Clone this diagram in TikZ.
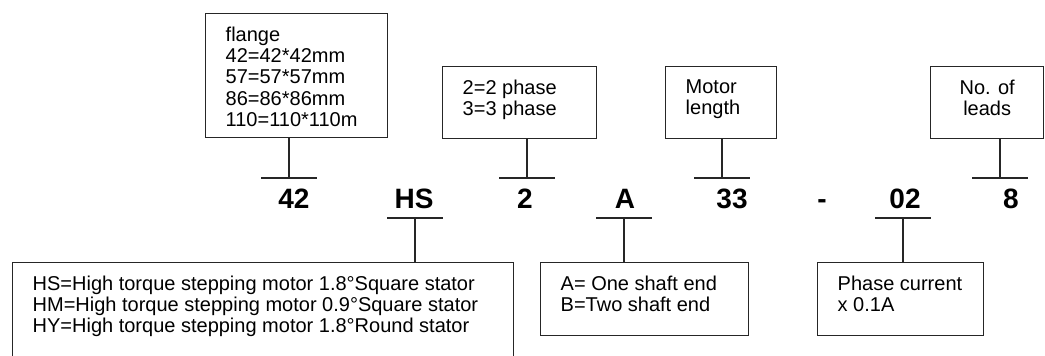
\documentclass[tikz,border=0pt]{standalone}
\usepackage{fontspec}
\setmainfont{Liberation Sans}
\tikzstyle{legend} = [draw=black!85, line width=1.4pt, rectangle, inner xsep=20pt, inner ysep=13pt, anchor=north west, font=\fontsize{20}{21.3}\selectfont]
\tikzstyle{code} = [inner sep=0pt, anchor=base, font=\fontsize{28}{28}\selectfont\bfseries]
\tikzstyle{lead} = [draw=black!85, line width=1.4pt]

\begin{document}
\begin{tikzpicture}[x=1pt, y=-1pt]
	\useasboundingbox[fill=white] (0,0) rectangle (1045,356);
	% upper legends
	\node[legend](flange) at (205,13){
		\begin{minipage}[t][98pt][t]{142pt}
			flange\\
			42=42*42mm\\
			57=57*57mm\\
			86=86*86mm\\
			110=110*110m
		\end{minipage}};
	\node[legend](phase) at (442,66){
		\begin{minipage}[t][46pt][t]{114pt}
			2=2 phase\\
			3=3 phase
		\end{minipage}};
	\node[legend](length) at (665,66){
		\begin{minipage}[t][46pt][t]{71pt}
			Motor\\
			length
		\end{minipage}};
	\node[legend](leads) at (930,66){
		\begin{minipage}[t][46pt][t]{73pt}
			\centering
			No. of\\
			leads
		\end{minipage}};
	% model code
	\node[code](c42) at (294,208) {42};
	\node[code](cHS) at (414,208) {HS};
	\node[code](c2) at (525,208) {2};
	\node[code](cA) at (625,208) {A};
	\node[code](c33) at (732,208) {33};
	\node[code](cdash) at (822,208) {-};
	\node[code](c02) at (905,208) {02};
	\node[code](c8) at (1011,208) {8};
	% lower legends
	\node[legend](series) at (12,262){
		\begin{minipage}[t][82pt][t]{461pt}
			HS=High torque stepping motor 1.8°Square stator\\
			HM=High torque stepping motor 0.9°Square stator\\
			HY=High torque stepping motor 1.8°Round stator
		\end{minipage}};
	\node[legend](shaft) at (540,262){
		\begin{minipage}[t][47pt][t]{168pt}
			A= One shaft end\\
			B=Two shaft end
		\end{minipage}};
	\node[legend](current) at (817,262){
		\begin{minipage}[t][47pt][t]{126pt}
			Phase current\\
			x 0.1A
		\end{minipage}};
	% bars and stems
	\coordinate (t42) at (289,178);
	\coordinate (bHS) at (415,218);
	\coordinate (t2) at (527,178);
	\coordinate (bA) at (624,218);
	\coordinate (t33) at (722,178);
	\coordinate (b02) at (903,218);
	\coordinate (t8) at (1000,178);
	\foreach \b in {t42,bHS,t2,bA,t33,b02,t8}
		\draw[lead] ([xshift=-28pt]\b) -- ([xshift=28pt]\b);
	\draw[lead] (flange.south -| t42) -- (t42);
	\draw[lead] (phase.south -| t2) -- (t2);
	\draw[lead] (length.south -| t33) -- (t33);
	\draw[lead] (leads.south -| t8) -- (t8);
	\draw[lead] (bHS) -- (series.north -| bHS);
	\draw[lead] (bA) -- (shaft.north -| bA);
	\draw[lead] (b02) -- (current.north -| b02);
\end{tikzpicture}
\end{document}
